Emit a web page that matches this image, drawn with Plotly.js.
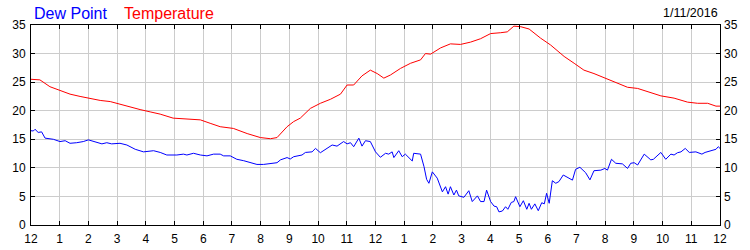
<!DOCTYPE html>
<html>
<head>
<meta charset="utf-8">
<script src="https://cdn.plot.ly/plotly-3.0.1.min.js"></script>
<style>html,body{margin:0;padding:0;background:#fff}#chart{width:750px;height:250px}</style>
</head>
<body>
<div id="chart"></div>
<script>
const xTickValues = [0,1,2,3,4,5,6,7,8,9,10,11,12,13,14,15,16,17,18,19,20,21,22,23,24];
const xTickLabels = ['12','1','2','3','4','5','6','7','8','9','10','11','12','1','2','3','4','5','6','7','8','9','10','11','12'];
const yTickValues = [0,5,10,15,20,25,30,35];

const tempHours = [0,0.31,0.66,1.01,1.36,1.71,2.06,2.41,2.76,3.1,3.45,3.8,4.15,4.5,4.95,5.44,5.9,6.24,6.59,7.05,7.53,7.99,8.34,8.57,8.92,9.15,9.38,9.73,10.08,10.43,10.78,11.01,11.24,11.53,11.82,12.06,12.29,12.52,12.87,13.22,13.57,13.74,13.92,14.27,14.61,14.96,15.31,15.66,16.01,16.36,16.59,16.82,17.06,17.35,17.75,18.1,18.57,18.92,19.26,19.61,20.08,20.43,20.78,21.13,21.59,21.94,22.4,22.87,23.22,23.57,23.86,24];
const tempValues = [25.5,25.4,24.2,23.6,22.9,22.5,22.1,21.8,21.6,21.1,20.6,20.2,19.8,19.4,18.7,18.6,18.4,17.8,17.2,16.9,16.0,15.3,15.1,15.3,17.2,18.1,18.7,20.4,21.3,22.0,22.9,24.5,24.5,26.1,27.1,26.5,25.7,26.25,27.4,28.3,28.9,30.0,29.9,31.0,31.7,31.6,32.0,32.6,33.5,33.65,33.8,34.8,34.7,34.3,32.7,31.5,29.5,28.3,27.1,26.5,25.5,24.8,24.1,23.9,23.2,22.6,22.2,21.5,21.3,21.3,20.8,20.8];

const dewHours = [0,0.08,0.14,0.25,0.37,0.49,0.78,1.01,1.19,1.36,1.59,1.82,2.0,2.23,2.47,2.64,2.81,3.1,3.34,3.63,3.92,4.27,4.5,4.73,5.08,5.31,5.43,5.66,5.9,6.13,6.36,6.59,6.71,6.94,7.17,7.41,7.64,7.87,8.1,8.34,8.57,8.69,8.92,9.03,9.15,9.44,9.56,9.79,9.91,10.08,10.31,10.49,10.66,10.78,10.89,11.01,11.13,11.24,11.42,11.53,11.65,11.82,12.0,12.17,12.35,12.46,12.58,12.64,12.81,12.93,13.04,13.28,13.33,13.57,13.69,13.78,13.86,13.98,14.15,14.33,14.44,14.53,14.61,14.73,14.82,14.9,15.08,15.25,15.37,15.55,15.66,15.78,15.87,16.01,16.13,16.22,16.3,16.42,16.53,16.61,16.73,16.82,16.88,17.03,17.15,17.27,17.35,17.43,17.55,17.67,17.79,17.88,17.96,18.05,18.16,18.28,18.39,18.54,18.68,18.86,18.97,19.12,19.32,19.47,19.61,19.85,19.99,20.08,20.22,20.37,20.6,20.78,20.89,21.01,21.13,21.36,21.59,21.68,21.94,22.11,22.29,22.4,22.52,22.64,22.79,22.93,23.16,23.37,23.48,23.68,23.86,23.94,24];
const dewValues = [16.5,16.45,16.75,16.2,16.3,15.2,15.0,14.6,14.75,14.3,14.4,14.6,14.9,14.6,14.2,14.4,14.2,14.3,14.0,13.25,12.8,13.0,12.7,12.25,12.25,12.4,12.25,12.55,12.25,12.1,12.4,12.4,12.1,12.1,11.5,11.25,10.9,10.6,10.6,10.8,10.9,11.4,11.8,11.55,11.95,12.25,12.7,12.8,13.4,12.65,13.4,14.0,13.8,14.2,14.6,14.2,14.4,13.7,15.2,13.8,14.75,14.6,12.8,11.85,12.55,12.4,12.8,11.8,13.0,11.95,12.4,11.2,12.55,12.4,10.2,8.0,7.3,9.3,8.2,5.8,6.7,5.4,6.7,5.25,6.1,5.1,4.85,6.0,4.1,5.1,4.1,4.1,6.1,4.1,3.3,3.2,2.3,2.45,3.2,2.75,3.95,4.1,4.95,3.2,4.25,2.75,3.8,2.75,3.7,2.5,3.9,3.7,5.55,3.8,7.75,7.3,7.6,8.75,8.35,7.85,9.75,10.1,9.15,7.9,9.5,9.6,9.9,9.6,11.5,10.8,10.7,9.9,10.8,10.9,10.5,12.4,11.4,11.5,12.7,11.5,12.4,12.25,12.65,12.8,13.4,12.7,12.8,12.4,12.7,12.95,13.25,13.7,13.4];

const FONT = 'Liberation Sans, Arial, sans-serif';

const traces = [
  {x: dewHours, y: dewValues, type: 'scatter', mode: 'lines', name: 'Dew Point',
   line: {color: '#0000ff', width: 1}, hoverinfo: 'none'},
  {x: tempHours, y: tempValues, type: 'scatter', mode: 'lines', name: 'Temperature',
   line: {color: '#ff0000', width: 1}, hoverinfo: 'none'},
  {x: [0], y: [0], type: 'scatter', mode: 'none', yaxis: 'y2', showlegend: false, hoverinfo: 'none'}
];

const axisCommon = {
  showline: true, linecolor: '#000', linewidth: 1,
  ticks: 'inside', ticklen: 4, tickcolor: '#000', tickwidth: 1,
  showgrid: true, gridcolor: '#cccccc', gridwidth: 1,
  zeroline: false,
  tickfont: {family: FONT, size: 12, color: '#000'}
};

const layout = {
  width: 750, height: 250,
  margin: {l: 31, r: 30, t: 25, b: 25, pad: 0},
  paper_bgcolor: '#fff', plot_bgcolor: '#fff',
  showlegend: false,
  font: {family: FONT, size: 12, color: '#000'},
  xaxis: Object.assign({}, axisCommon, {
    range: [0, 24], tickmode: 'array', tickvals: xTickValues, ticktext: xTickLabels,
    mirror: 'ticks', ticklabelstandoff: 3
  }),
  yaxis: Object.assign({}, axisCommon, {
    range: [0, 35], tickmode: 'array', tickvals: yTickValues,
    mirror: 'ticks', ticklabelstandoff: 2
  }),
  yaxis2: Object.assign({}, axisCommon, {
    range: [0, 35], tickmode: 'array', tickvals: yTickValues,
    overlaying: 'y', side: 'right', showgrid: false, showline: false, ticks: '',
    ticklabelstandoff: 3
  }),
  annotations: [
    {text: 'Dew Point', xref: 'paper', yref: 'paper', x: 0, y: 1, xanchor: 'left', yanchor: 'bottom',
     xshift: 1, yshift: 1, showarrow: false, font: {family: FONT, size: 16, color: '#0000ff'}},
    {text: 'Temperature', xref: 'paper', yref: 'paper', x: 0, y: 1, xanchor: 'left', yanchor: 'bottom',
     xshift: 91, yshift: 1, showarrow: false, font: {family: FONT, size: 16, color: '#ff0000'}},
    {text: '1/11/2016', xref: 'paper', yref: 'paper', x: 1, y: 1, xanchor: 'right', yanchor: 'bottom',
     xshift: 0, yshift: 3, showarrow: false, font: {family: FONT, size: 12.5, color: '#000'}}
  ]
};

Plotly.newPlot('chart', traces, layout, {staticPlot: true, displayModeBar: false});
</script>
</body>
</html>
